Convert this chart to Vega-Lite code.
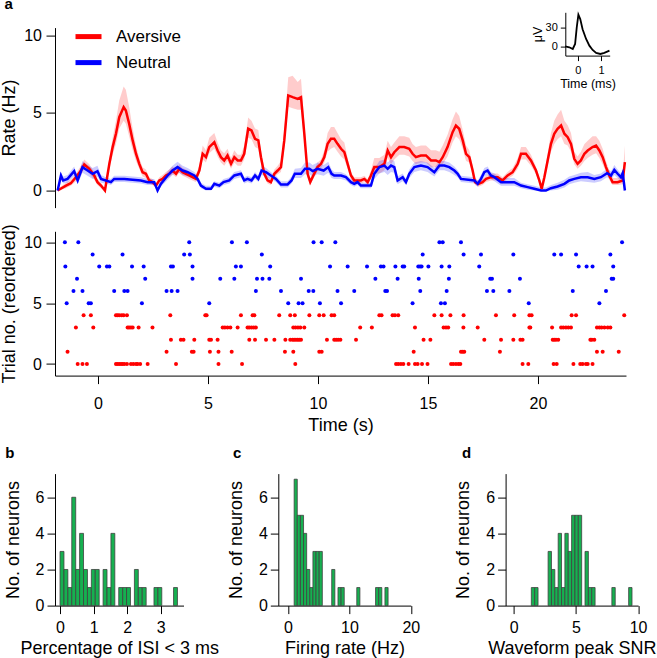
{
"$schema": "https://vega.github.io/schema/vega-lite/v6.json",
"padding": {"left": 0, "top": -3.4, "right": 0, "bottom": 0},
"config": {
  "font": "Liberation Sans",
  "view": {"stroke": null},
  "axis": {"grid": false, "domainColor": "black", "tickColor": "black", "labelColor": "black", "titleColor": "black", "labelFontSize": 16, "titleFontSize": 18, "titleFontWeight": "normal", "tickSize": 8, "domainWidth": 1, "tickWidth": 1, "labelFlush": false, "labelBound": false, "labelOverlap": false},
  "title": {"fontSize": 15, "fontWeight": "bold", "anchor": "start", "frame": "group", "baseline": "alphabetic", "offset": 0, "color": "black"}
},
"resolve": {"scale": {"color": "independent"}, "legend": {"color": "independent"}},
"datasets": {
"rate": [
{"s":"Aversive","t":-1.83,"r":0,"lo":0,"hi":0.1},
{"s":"Aversive","t":-1.45,"r":0.32,"lo":0.15,"hi":0.5},
{"s":"Aversive","t":-1.23,"r":0.47,"lo":0.3,"hi":0.7},
{"s":"Aversive","t":-1.0,"r":0.86,"lo":0.6,"hi":1.1},
{"s":"Aversive","t":-0.77,"r":1.29,"lo":1.0,"hi":1.6},
{"s":"Aversive","t":-0.62,"r":1.68,"lo":1.4,"hi":2.0},
{"s":"Aversive","t":-0.39,"r":1.4,"lo":1.1,"hi":1.7},
{"s":"Aversive","t":-0.17,"r":0.97,"lo":0.7,"hi":1.2},
{"s":"Aversive","t":-0.02,"r":0.54,"lo":0.35,"hi":0.75},
{"s":"Aversive","t":0.14,"r":0.32,"lo":0.15,"hi":0.5},
{"s":"Aversive","t":0.32,"r":0,"lo":0,"hi":0.15},
{"s":"Aversive","t":0.52,"r":1.72,"lo":1.4,"hi":2.1},
{"s":"Aversive","t":0.67,"r":2.8,"lo":2.3,"hi":3.4},
{"s":"Aversive","t":0.82,"r":3.66,"lo":3.0,"hi":4.5},
{"s":"Aversive","t":0.97,"r":4.73,"lo":4.0,"hi":5.8},
{"s":"Aversive","t":1.17,"r":5.38,"lo":4.5,"hi":6.7},
{"s":"Aversive","t":1.27,"r":5.16,"lo":4.3,"hi":6.5},
{"s":"Aversive","t":1.42,"r":4.3,"lo":3.5,"hi":5.4},
{"s":"Aversive","t":1.58,"r":3.23,"lo":2.6,"hi":4.0},
{"s":"Aversive","t":1.73,"r":2.37,"lo":1.9,"hi":2.9},
{"s":"Aversive","t":1.88,"r":1.72,"lo":1.4,"hi":2.1},
{"s":"Aversive","t":2.03,"r":1.18,"lo":0.9,"hi":1.5},
{"s":"Aversive","t":2.18,"r":1.08,"lo":0.8,"hi":1.35},
{"s":"Aversive","t":2.33,"r":0.65,"lo":0.45,"hi":0.85},
{"s":"Aversive","t":2.48,"r":0.54,"lo":0.35,"hi":0.75},
{"s":"Aversive","t":2.64,"r":0.32,"lo":0.15,"hi":0.5},
{"s":"Aversive","t":2.79,"r":0.65,"lo":0.45,"hi":0.85},
{"s":"Aversive","t":2.94,"r":0.75,"lo":0.55,"hi":1.0},
{"s":"Aversive","t":3.09,"r":0.97,"lo":0.75,"hi":1.2},
{"s":"Aversive","t":3.24,"r":1.08,"lo":0.85,"hi":1.35},
{"s":"Aversive","t":3.39,"r":1.29,"lo":1.05,"hi":1.55},
{"s":"Aversive","t":3.55,"r":1.08,"lo":0.85,"hi":1.35},
{"s":"Aversive","t":3.7,"r":1.4,"lo":1.15,"hi":1.7},
{"s":"Aversive","t":3.85,"r":1.18,"lo":0.95,"hi":1.45},
{"s":"Aversive","t":4.0,"r":1.08,"lo":0.85,"hi":1.35},
{"s":"Aversive","t":4.15,"r":0.97,"lo":0.75,"hi":1.2},
{"s":"Aversive","t":4.3,"r":0.86,"lo":0.65,"hi":1.1},
{"s":"Aversive","t":4.45,"r":0.75,"lo":0.55,"hi":1.0},
{"s":"Aversive","t":4.61,"r":1.29,"lo":1.0,"hi":1.6},
{"s":"Aversive","t":4.76,"r":2.37,"lo":2.0,"hi":2.9},
{"s":"Aversive","t":4.91,"r":2.15,"lo":1.8,"hi":2.6},
{"s":"Aversive","t":5.06,"r":2.8,"lo":2.4,"hi":3.4},
{"s":"Aversive","t":5.29,"r":3.12,"lo":2.7,"hi":3.7},
{"s":"Aversive","t":5.44,"r":2.58,"lo":2.2,"hi":3.1},
{"s":"Aversive","t":5.59,"r":2.15,"lo":1.8,"hi":2.6},
{"s":"Aversive","t":5.74,"r":1.94,"lo":1.6,"hi":2.4},
{"s":"Aversive","t":5.89,"r":2.26,"lo":1.9,"hi":2.7},
{"s":"Aversive","t":6.05,"r":1.72,"lo":1.4,"hi":2.1},
{"s":"Aversive","t":6.2,"r":2.15,"lo":1.8,"hi":2.6},
{"s":"Aversive","t":6.35,"r":1.94,"lo":1.6,"hi":2.3},
{"s":"Aversive","t":6.5,"r":1.94,"lo":1.6,"hi":2.3},
{"s":"Aversive","t":6.65,"r":2.37,"lo":2.0,"hi":2.9},
{"s":"Aversive","t":6.83,"r":3.98,"lo":3.4,"hi":4.7},
{"s":"Aversive","t":6.98,"r":3.87,"lo":3.3,"hi":4.5},
{"s":"Aversive","t":7.14,"r":3.33,"lo":2.8,"hi":4.0},
{"s":"Aversive","t":7.29,"r":3.23,"lo":2.7,"hi":3.9},
{"s":"Aversive","t":7.41,"r":2.15,"lo":1.8,"hi":2.6},
{"s":"Aversive","t":7.56,"r":1.08,"lo":0.85,"hi":1.4},
{"s":"Aversive","t":7.71,"r":0.65,"lo":0.45,"hi":0.9},
{"s":"Aversive","t":7.86,"r":0.54,"lo":0.35,"hi":0.75},
{"s":"Aversive","t":8.02,"r":1.08,"lo":0.85,"hi":1.35},
{"s":"Aversive","t":8.17,"r":1.29,"lo":1.05,"hi":1.6},
{"s":"Aversive","t":8.32,"r":1.51,"lo":1.2,"hi":1.9},
{"s":"Aversive","t":8.47,"r":3.23,"lo":2.7,"hi":3.9},
{"s":"Aversive","t":8.65,"r":6.13,"lo":5.4,"hi":7.3},
{"s":"Aversive","t":8.85,"r":6.02,"lo":5.3,"hi":7.4},
{"s":"Aversive","t":9.08,"r":5.91,"lo":5.2,"hi":7.0},
{"s":"Aversive","t":9.23,"r":6.02,"lo":5.2,"hi":7.2},
{"s":"Aversive","t":9.38,"r":3.66,"lo":3.1,"hi":4.4},
{"s":"Aversive","t":9.53,"r":1.08,"lo":0.85,"hi":1.4},
{"s":"Aversive","t":9.65,"r":0.54,"lo":0.35,"hi":0.8},
{"s":"Aversive","t":9.83,"r":1.08,"lo":0.85,"hi":1.35},
{"s":"Aversive","t":9.98,"r":1.51,"lo":1.25,"hi":1.8},
{"s":"Aversive","t":10.14,"r":1.72,"lo":1.45,"hi":2.0},
{"s":"Aversive","t":10.29,"r":2.15,"lo":1.8,"hi":2.6},
{"s":"Aversive","t":10.44,"r":3.01,"lo":2.5,"hi":3.7},
{"s":"Aversive","t":10.59,"r":3.33,"lo":2.7,"hi":4.1},
{"s":"Aversive","t":10.74,"r":3.33,"lo":2.8,"hi":4.1},
{"s":"Aversive","t":10.89,"r":3.01,"lo":2.5,"hi":3.7},
{"s":"Aversive","t":11.05,"r":2.69,"lo":2.2,"hi":3.3},
{"s":"Aversive","t":11.2,"r":2.47,"lo":2.0,"hi":3.1},
{"s":"Aversive","t":11.35,"r":1.72,"lo":1.4,"hi":2.1},
{"s":"Aversive","t":11.5,"r":0.97,"lo":0.75,"hi":1.2},
{"s":"Aversive","t":11.65,"r":0.65,"lo":0.45,"hi":0.85},
{"s":"Aversive","t":11.95,"r":0.65,"lo":0.45,"hi":0.85},
{"s":"Aversive","t":12.11,"r":0.75,"lo":0.55,"hi":0.95},
{"s":"Aversive","t":12.26,"r":0.54,"lo":0.35,"hi":0.75},
{"s":"Aversive","t":12.41,"r":0.97,"lo":0.7,"hi":1.3},
{"s":"Aversive","t":12.56,"r":1.51,"lo":1.1,"hi":2.1},
{"s":"Aversive","t":12.79,"r":1.51,"lo":1.1,"hi":2.1},
{"s":"Aversive","t":13.02,"r":1.72,"lo":1.3,"hi":2.3},
{"s":"Aversive","t":13.17,"r":2.58,"lo":2.1,"hi":3.2},
{"s":"Aversive","t":13.32,"r":2.15,"lo":1.7,"hi":2.8},
{"s":"Aversive","t":13.47,"r":2.47,"lo":2.0,"hi":3.1},
{"s":"Aversive","t":13.7,"r":2.8,"lo":2.3,"hi":3.5},
{"s":"Aversive","t":13.92,"r":2.8,"lo":2.3,"hi":3.5},
{"s":"Aversive","t":14.15,"r":2.69,"lo":2.2,"hi":3.4},
{"s":"Aversive","t":14.3,"r":2.37,"lo":1.9,"hi":3.0},
{"s":"Aversive","t":14.45,"r":2.15,"lo":1.7,"hi":2.8},
{"s":"Aversive","t":14.68,"r":2.26,"lo":1.8,"hi":2.9},
{"s":"Aversive","t":14.91,"r":2.26,"lo":1.8,"hi":2.9},
{"s":"Aversive","t":15.14,"r":1.94,"lo":1.5,"hi":2.6},
{"s":"Aversive","t":15.36,"r":1.94,"lo":1.5,"hi":2.6},
{"s":"Aversive","t":15.52,"r":1.83,"lo":1.4,"hi":2.5},
{"s":"Aversive","t":15.67,"r":2.15,"lo":1.7,"hi":2.9},
{"s":"Aversive","t":15.89,"r":2.8,"lo":2.2,"hi":3.6},
{"s":"Aversive","t":16.12,"r":3.76,"lo":3.1,"hi":4.6},
{"s":"Aversive","t":16.27,"r":4.19,"lo":3.5,"hi":5.1},
{"s":"Aversive","t":16.42,"r":3.98,"lo":3.3,"hi":4.8},
{"s":"Aversive","t":16.58,"r":3.23,"lo":2.7,"hi":3.9},
{"s":"Aversive","t":16.73,"r":2.37,"lo":1.9,"hi":2.9},
{"s":"Aversive","t":16.88,"r":2.15,"lo":1.8,"hi":2.6},
{"s":"Aversive","t":17.03,"r":1.29,"lo":1.0,"hi":1.6},
{"s":"Aversive","t":17.14,"r":0.54,"lo":0.35,"hi":0.75},
{"s":"Aversive","t":17.29,"r":0.43,"lo":0.25,"hi":0.65},
{"s":"Aversive","t":17.48,"r":0.54,"lo":0.35,"hi":0.75},
{"s":"Aversive","t":17.64,"r":0.75,"lo":0.55,"hi":0.95},
{"s":"Aversive","t":17.86,"r":0.86,"lo":0.65,"hi":1.1},
{"s":"Aversive","t":18.17,"r":0.86,"lo":0.65,"hi":1.1},
{"s":"Aversive","t":18.39,"r":0.65,"lo":0.45,"hi":0.85},
{"s":"Aversive","t":18.62,"r":0.97,"lo":0.75,"hi":1.2},
{"s":"Aversive","t":18.85,"r":1.18,"lo":0.95,"hi":1.45},
{"s":"Aversive","t":19.08,"r":1.72,"lo":1.4,"hi":2.1},
{"s":"Aversive","t":19.23,"r":2.37,"lo":2.0,"hi":2.8},
{"s":"Aversive","t":19.45,"r":2.37,"lo":2.0,"hi":2.8},
{"s":"Aversive","t":19.68,"r":1.94,"lo":1.6,"hi":2.3},
{"s":"Aversive","t":19.91,"r":1.29,"lo":1.05,"hi":1.55},
{"s":"Aversive","t":20.06,"r":0.65,"lo":0.5,"hi":0.8},
{"s":"Aversive","t":20.17,"r":0.11,"lo":0,"hi":0.25},
{"s":"Aversive","t":20.29,"r":0.86,"lo":0.65,"hi":1.1},
{"s":"Aversive","t":20.44,"r":1.94,"lo":1.6,"hi":2.4},
{"s":"Aversive","t":20.59,"r":3.01,"lo":2.5,"hi":3.7},
{"s":"Aversive","t":20.74,"r":3.66,"lo":3.0,"hi":4.5},
{"s":"Aversive","t":20.89,"r":3.98,"lo":3.3,"hi":4.9},
{"s":"Aversive","t":21.05,"r":4.19,"lo":3.5,"hi":5.2},
{"s":"Aversive","t":21.2,"r":3.66,"lo":3.0,"hi":4.5},
{"s":"Aversive","t":21.35,"r":3.44,"lo":2.9,"hi":4.2},
{"s":"Aversive","t":21.5,"r":3.01,"lo":2.5,"hi":3.7},
{"s":"Aversive","t":21.65,"r":2.04,"lo":1.7,"hi":2.5},
{"s":"Aversive","t":21.8,"r":1.72,"lo":1.4,"hi":2.2},
{"s":"Aversive","t":21.95,"r":1.94,"lo":1.6,"hi":2.5},
{"s":"Aversive","t":22.11,"r":2.37,"lo":1.9,"hi":3.0},
{"s":"Aversive","t":22.26,"r":2.58,"lo":2.1,"hi":3.2},
{"s":"Aversive","t":22.48,"r":2.8,"lo":2.3,"hi":3.5},
{"s":"Aversive","t":22.64,"r":2.9,"lo":2.4,"hi":3.5},
{"s":"Aversive","t":22.79,"r":2.58,"lo":2.1,"hi":3.2},
{"s":"Aversive","t":22.94,"r":2.15,"lo":1.7,"hi":2.7},
{"s":"Aversive","t":23.09,"r":1.51,"lo":1.2,"hi":1.9},
{"s":"Aversive","t":23.24,"r":0.97,"lo":0.7,"hi":1.3},
{"s":"Aversive","t":23.39,"r":0.54,"lo":0.35,"hi":0.8},
{"s":"Aversive","t":23.62,"r":0.54,"lo":0.35,"hi":0.8},
{"s":"Aversive","t":23.85,"r":0.65,"lo":0.4,"hi":1.0},
{"s":"Aversive","t":23.95,"r":1.83,"lo":1.2,"hi":2.9},
{"s":"Neutral","t":-1.83,"r":0,"lo":0,"hi":0.1},
{"s":"Neutral","t":-1.68,"r":0.97,"lo":0.7,"hi":1.2},
{"s":"Neutral","t":-1.58,"r":0.65,"lo":0.45,"hi":0.9},
{"s":"Neutral","t":-1.38,"r":0.75,"lo":0.5,"hi":1.0},
{"s":"Neutral","t":-1.08,"r":1.25,"lo":0.95,"hi":1.55},
{"s":"Neutral","t":-0.92,"r":0.65,"lo":0.4,"hi":0.9},
{"s":"Neutral","t":-0.7,"r":1.51,"lo":1.15,"hi":1.9},
{"s":"Neutral","t":-0.47,"r":1.29,"lo":0.95,"hi":1.65},
{"s":"Neutral","t":-0.24,"r":1.08,"lo":0.75,"hi":1.45},
{"s":"Neutral","t":-0.02,"r":1.25,"lo":0.9,"hi":1.6},
{"s":"Neutral","t":0.14,"r":0.75,"lo":0.5,"hi":1.0},
{"s":"Neutral","t":0.36,"r":0.65,"lo":0.45,"hi":0.85},
{"s":"Neutral","t":0.59,"r":0.54,"lo":0.35,"hi":0.75},
{"s":"Neutral","t":0.74,"r":0.75,"lo":0.55,"hi":0.95},
{"s":"Neutral","t":1.2,"r":0.75,"lo":0.55,"hi":0.95},
{"s":"Neutral","t":1.95,"r":0.65,"lo":0.45,"hi":0.85},
{"s":"Neutral","t":2.26,"r":0.54,"lo":0.35,"hi":0.75},
{"s":"Neutral","t":2.56,"r":0.54,"lo":0.35,"hi":0.75},
{"s":"Neutral","t":2.71,"r":0,"lo":0,"hi":0.15},
{"s":"Neutral","t":2.86,"r":0.43,"lo":0.25,"hi":0.65},
{"s":"Neutral","t":3.17,"r":0.97,"lo":0.7,"hi":1.25},
{"s":"Neutral","t":3.39,"r":1.29,"lo":1.0,"hi":1.6},
{"s":"Neutral","t":3.62,"r":1.51,"lo":1.2,"hi":1.85},
{"s":"Neutral","t":3.85,"r":1.29,"lo":1.0,"hi":1.6},
{"s":"Neutral","t":4.08,"r":1.18,"lo":0.9,"hi":1.45},
{"s":"Neutral","t":4.38,"r":0.97,"lo":0.75,"hi":1.2},
{"s":"Neutral","t":4.53,"r":0.75,"lo":0.55,"hi":0.95},
{"s":"Neutral","t":4.68,"r":0.32,"lo":0.15,"hi":0.5},
{"s":"Neutral","t":4.91,"r":0.11,"lo":0,"hi":0.3},
{"s":"Neutral","t":5.14,"r":0.11,"lo":0,"hi":0.3},
{"s":"Neutral","t":5.29,"r":0.43,"lo":0.25,"hi":0.6},
{"s":"Neutral","t":5.52,"r":0.32,"lo":0.15,"hi":0.5},
{"s":"Neutral","t":5.71,"r":0.54,"lo":0.35,"hi":0.75},
{"s":"Neutral","t":5.97,"r":0.65,"lo":0.45,"hi":0.85},
{"s":"Neutral","t":6.2,"r":0.97,"lo":0.75,"hi":1.2},
{"s":"Neutral","t":6.5,"r":1.08,"lo":0.85,"hi":1.3},
{"s":"Neutral","t":6.65,"r":0.65,"lo":0.45,"hi":0.85},
{"s":"Neutral","t":6.8,"r":0.75,"lo":0.55,"hi":0.95},
{"s":"Neutral","t":6.98,"r":0.65,"lo":0.45,"hi":0.85},
{"s":"Neutral","t":7.14,"r":0.97,"lo":0.75,"hi":1.2},
{"s":"Neutral","t":7.29,"r":0.75,"lo":0.55,"hi":0.95},
{"s":"Neutral","t":7.44,"r":1.29,"lo":1.0,"hi":1.6},
{"s":"Neutral","t":7.64,"r":1.18,"lo":0.9,"hi":1.45},
{"s":"Neutral","t":7.86,"r":0.97,"lo":0.75,"hi":1.2},
{"s":"Neutral","t":8.09,"r":0.75,"lo":0.55,"hi":0.95},
{"s":"Neutral","t":8.32,"r":0.39,"lo":0.2,"hi":0.6},
{"s":"Neutral","t":8.62,"r":0.39,"lo":0.2,"hi":0.6},
{"s":"Neutral","t":8.8,"r":0.65,"lo":0.45,"hi":0.9},
{"s":"Neutral","t":8.95,"r":1.08,"lo":0.8,"hi":1.4},
{"s":"Neutral","t":9.23,"r":1.08,"lo":0.8,"hi":1.45},
{"s":"Neutral","t":9.41,"r":1.4,"lo":1.05,"hi":1.8},
{"s":"Neutral","t":9.61,"r":1.4,"lo":1.05,"hi":1.8},
{"s":"Neutral","t":9.76,"r":1.25,"lo":0.9,"hi":1.65},
{"s":"Neutral","t":9.98,"r":1.4,"lo":1.05,"hi":1.8},
{"s":"Neutral","t":10.26,"r":1.29,"lo":0.95,"hi":1.65},
{"s":"Neutral","t":10.47,"r":1.51,"lo":1.15,"hi":1.85},
{"s":"Neutral","t":10.62,"r":1.08,"lo":0.8,"hi":1.35},
{"s":"Neutral","t":10.74,"r":0.97,"lo":0.75,"hi":1.2},
{"s":"Neutral","t":11.05,"r":0.97,"lo":0.75,"hi":1.2},
{"s":"Neutral","t":11.27,"r":0.86,"lo":0.65,"hi":1.05},
{"s":"Neutral","t":11.5,"r":0.54,"lo":0.35,"hi":0.75},
{"s":"Neutral","t":11.65,"r":0.43,"lo":0.25,"hi":0.65},
{"s":"Neutral","t":11.8,"r":0.54,"lo":0.35,"hi":0.75},
{"s":"Neutral","t":11.95,"r":0.32,"lo":0.15,"hi":0.5},
{"s":"Neutral","t":12.41,"r":0.32,"lo":0.15,"hi":0.5},
{"s":"Neutral","t":12.56,"r":1.08,"lo":0.75,"hi":1.4},
{"s":"Neutral","t":12.79,"r":1.51,"lo":1.1,"hi":1.9},
{"s":"Neutral","t":13.02,"r":1.61,"lo":1.2,"hi":2.0},
{"s":"Neutral","t":13.17,"r":1.4,"lo":1.0,"hi":1.8},
{"s":"Neutral","t":13.32,"r":1.61,"lo":1.2,"hi":2.0},
{"s":"Neutral","t":13.47,"r":1.51,"lo":1.15,"hi":1.9},
{"s":"Neutral","t":13.62,"r":0.65,"lo":0.4,"hi":0.9},
{"s":"Neutral","t":13.85,"r":0.86,"lo":0.6,"hi":1.1},
{"s":"Neutral","t":14.0,"r":0.54,"lo":0.35,"hi":0.75},
{"s":"Neutral","t":14.15,"r":1.08,"lo":0.8,"hi":1.35},
{"s":"Neutral","t":14.38,"r":1.51,"lo":1.2,"hi":1.8},
{"s":"Neutral","t":14.68,"r":1.61,"lo":1.3,"hi":1.9},
{"s":"Neutral","t":14.98,"r":1.51,"lo":1.2,"hi":1.8},
{"s":"Neutral","t":15.29,"r":1.18,"lo":0.9,"hi":1.45},
{"s":"Neutral","t":15.52,"r":1.61,"lo":1.3,"hi":1.9},
{"s":"Neutral","t":15.74,"r":1.61,"lo":1.3,"hi":1.9},
{"s":"Neutral","t":15.97,"r":1.51,"lo":1.2,"hi":1.8},
{"s":"Neutral","t":16.2,"r":1.29,"lo":1.0,"hi":1.55},
{"s":"Neutral","t":16.35,"r":1.08,"lo":0.85,"hi":1.3},
{"s":"Neutral","t":16.5,"r":0.75,"lo":0.55,"hi":0.95},
{"s":"Neutral","t":17.11,"r":0.65,"lo":0.45,"hi":0.85},
{"s":"Neutral","t":17.26,"r":0.43,"lo":0.25,"hi":0.65},
{"s":"Neutral","t":17.41,"r":0.75,"lo":0.5,"hi":1.0},
{"s":"Neutral","t":17.56,"r":1.18,"lo":0.9,"hi":1.45},
{"s":"Neutral","t":17.71,"r":1.29,"lo":1.0,"hi":1.55},
{"s":"Neutral","t":17.86,"r":0.97,"lo":0.75,"hi":1.2},
{"s":"Neutral","t":18.02,"r":0.86,"lo":0.6,"hi":1.1},
{"s":"Neutral","t":18.32,"r":0.54,"lo":0.3,"hi":0.8},
{"s":"Neutral","t":18.92,"r":0.54,"lo":0.3,"hi":0.8},
{"s":"Neutral","t":19.23,"r":0.32,"lo":0.15,"hi":0.5},
{"s":"Neutral","t":19.53,"r":0.22,"lo":0.05,"hi":0.4},
{"s":"Neutral","t":19.83,"r":0.11,"lo":0,"hi":0.3},
{"s":"Neutral","t":20.14,"r":0,"lo":0,"hi":0.2},
{"s":"Neutral","t":20.36,"r":0,"lo":0,"hi":0.2},
{"s":"Neutral","t":20.59,"r":0.15,"lo":0,"hi":0.35},
{"s":"Neutral","t":20.89,"r":0.26,"lo":0.05,"hi":0.5},
{"s":"Neutral","t":21.2,"r":0.43,"lo":0.2,"hi":0.7},
{"s":"Neutral","t":21.42,"r":0.65,"lo":0.4,"hi":0.9},
{"s":"Neutral","t":21.65,"r":0.75,"lo":0.5,"hi":1.0},
{"s":"Neutral","t":21.95,"r":0.86,"lo":0.6,"hi":1.15},
{"s":"Neutral","t":22.26,"r":0.86,"lo":0.55,"hi":1.2},
{"s":"Neutral","t":22.56,"r":0.75,"lo":0.5,"hi":1.0},
{"s":"Neutral","t":22.86,"r":0.86,"lo":0.6,"hi":1.1},
{"s":"Neutral","t":23.14,"r":1.12,"lo":0.85,"hi":1.4},
{"s":"Neutral","t":23.32,"r":0.97,"lo":0.7,"hi":1.25},
{"s":"Neutral","t":23.47,"r":1.33,"lo":1.0,"hi":1.65},
{"s":"Neutral","t":23.62,"r":1.08,"lo":0.8,"hi":1.35},
{"s":"Neutral","t":23.77,"r":0.86,"lo":0.6,"hi":1.1},
{"s":"Neutral","t":23.85,"r":1.12,"lo":0.8,"hi":1.4},
{"s":"Neutral","t":23.95,"r":0,"lo":0,"hi":0.3}
],
"raster": [
{"k":10,"t":-1.5},{"k":10,"t":-0.89},{"k":10,"t":4.15},{"k":10,"t":6.09},{"k":10,"t":6.77},{"k":10,"t":9.8},{"k":10,"t":10.17},{"k":10,"t":10.79},{"k":10,"t":15.52},{"k":10,"t":15.67},{"k":10,"t":16.5},{"k":10,"t":23.82},
{"k":9,"t":-0.24},{"k":9,"t":1.12},{"k":9,"t":3.92},{"k":9,"t":4.18},{"k":9,"t":7.45},{"k":9,"t":14.76},{"k":9,"t":16.62},{"k":9,"t":17.41},{"k":9,"t":18.88},{"k":9,"t":20.74},{"k":9,"t":21.05},{"k":9,"t":21.73},{"k":9,"t":23.29},
{"k":8,"t":-1.48},{"k":8,"t":0.06},{"k":8,"t":0.41},{"k":8,"t":0.52},{"k":8,"t":1.55},{"k":8,"t":2.08},{"k":8,"t":3.32},{"k":8,"t":3.41},{"k":8,"t":4.3},{"k":8,"t":6.27},{"k":8,"t":6.5},{"k":8,"t":7.83},{"k":8,"t":10.55},{"k":8,"t":11.35},{"k":8,"t":12.23},{"k":8,"t":12.86},{"k":8,"t":12.98},{"k":8,"t":13.52},{"k":8,"t":13.85},{"k":8,"t":13.92},{"k":8,"t":14.56},{"k":8,"t":14.64},{"k":8,"t":14.71},{"k":8,"t":15.02},{"k":8,"t":15.62},{"k":8,"t":15.97},{"k":8,"t":17.33},{"k":8,"t":21.85},{"k":8,"t":22.21},{"k":8,"t":22.48},{"k":8,"t":23.42},
{"k":7,"t":-0.95},{"k":7,"t":2.15},{"k":7,"t":4.3},{"k":7,"t":5.56},{"k":7,"t":6.2},{"k":7,"t":7.23},{"k":7,"t":7.48},{"k":7,"t":7.79},{"k":7,"t":9.23},{"k":7,"t":12.61},{"k":7,"t":13.62},{"k":7,"t":14.58},{"k":7,"t":15.95},{"k":7,"t":17.83},{"k":7,"t":17.91},{"k":7,"t":19.18},{"k":7,"t":23.35},{"k":7,"t":23.42},
{"k":6,"t":-1.11},{"k":6,"t":-0.7},{"k":6,"t":0.74},{"k":6,"t":1.2},{"k":6,"t":1.35},{"k":6,"t":3.12},{"k":6,"t":3.35},{"k":6,"t":3.62},{"k":6,"t":7.18},{"k":6,"t":8.32},{"k":6,"t":9.58},{"k":6,"t":9.79},{"k":6,"t":10.89},{"k":6,"t":11.65},{"k":6,"t":13.06},{"k":6,"t":13.14},{"k":6,"t":14.65},{"k":6,"t":15.85},{"k":6,"t":17.68},{"k":6,"t":17.97},{"k":6,"t":18.7},{"k":6,"t":21.58},{"k":6,"t":23.09},
{"k":5,"t":-1.42},{"k":5,"t":-0.42},{"k":5,"t":-0.32},{"k":5,"t":2.0},{"k":5,"t":5.06},{"k":5,"t":8.65},{"k":5,"t":9.12},{"k":5,"t":9.3},{"k":5,"t":10.09},{"k":5,"t":11.05},{"k":5,"t":14.3},{"k":5,"t":15.59},{"k":5,"t":15.77},{"k":5,"t":19.58},{"k":5,"t":22.79},
{"k":4,"t":-0.65},{"k":4,"t":-0.32},{"k":4,"t":0.82},{"k":4,"t":0.89},{"k":4,"t":0.97},{"k":4,"t":1.08},{"k":4,"t":1.17},{"k":4,"t":1.32},{"k":4,"t":3.29},{"k":4,"t":4.88},{"k":4,"t":4.94},{"k":4,"t":6.5},{"k":4,"t":7.03},{"k":4,"t":7.11},{"k":4,"t":8.24},{"k":4,"t":8.74},{"k":4,"t":8.95},{"k":4,"t":9.61},{"k":4,"t":10.06},{"k":4,"t":10.26},{"k":4,"t":10.62},{"k":4,"t":10.74},{"k":4,"t":12.79},{"k":4,"t":12.89},{"k":4,"t":13.39},{"k":4,"t":13.5},{"k":4,"t":13.65},{"k":4,"t":15.29},{"k":4,"t":15.62},{"k":4,"t":16.02},{"k":4,"t":16.62},{"k":4,"t":18.09},{"k":4,"t":18.92},{"k":4,"t":19.61},{"k":4,"t":19.71},{"k":4,"t":21.53},{"k":4,"t":21.73},{"k":4,"t":23.92},
{"k":3,"t":-1.0},{"k":3,"t":-0.21},{"k":3,"t":1.35},{"k":3,"t":1.42},{"k":3,"t":1.5},{"k":3,"t":1.58},{"k":3,"t":1.85},{"k":3,"t":2.48},{"k":3,"t":5.67},{"k":3,"t":5.77},{"k":3,"t":5.89},{"k":3,"t":6.02},{"k":3,"t":6.35},{"k":3,"t":6.8},{"k":3,"t":6.88},{"k":3,"t":6.98},{"k":3,"t":7.08},{"k":3,"t":7.18},{"k":3,"t":8.88},{"k":3,"t":8.98},{"k":3,"t":9.09},{"k":3,"t":9.2},{"k":3,"t":9.38},{"k":3,"t":11.92},{"k":3,"t":12.45},{"k":3,"t":14.41},{"k":3,"t":15.71},{"k":3,"t":15.82},{"k":3,"t":15.92},{"k":3,"t":16.61},{"k":3,"t":17.26},{"k":3,"t":19.61},{"k":3,"t":19.65},{"k":3,"t":20.64},{"k":3,"t":21.05},{"k":3,"t":21.15},{"k":3,"t":21.27},{"k":3,"t":21.38},{"k":3,"t":21.5},{"k":3,"t":22.68},{"k":3,"t":22.79},{"k":3,"t":22.89},{"k":3,"t":23.02},{"k":3,"t":23.17},{"k":3,"t":23.29},
{"k":2,"t":3.32},{"k":2,"t":3.77},{"k":2,"t":3.89},{"k":2,"t":4.38},{"k":2,"t":5.06},{"k":2,"t":5.14},{"k":2,"t":5.44},{"k":2,"t":6.88},{"k":2,"t":7.14},{"k":2,"t":7.64},{"k":2,"t":8.02},{"k":2,"t":8.52},{"k":2,"t":8.74},{"k":2,"t":8.85},{"k":2,"t":8.92},{"k":2,"t":9.0},{"k":2,"t":9.08},{"k":2,"t":9.15},{"k":2,"t":9.23},{"k":2,"t":10.41},{"k":2,"t":10.74},{"k":2,"t":10.83},{"k":2,"t":10.92},{"k":2,"t":11.02},{"k":2,"t":11.73},{"k":2,"t":14.8},{"k":2,"t":15.11},{"k":2,"t":17.56},{"k":2,"t":18.32},{"k":2,"t":18.88},{"k":2,"t":19.2},{"k":2,"t":19.3},{"k":2,"t":20.67},{"k":2,"t":20.74},{"k":2,"t":20.82},{"k":2,"t":20.92},{"k":2,"t":22.38},{"k":2,"t":22.45},{"k":2,"t":22.56},
{"k":1,"t":-1.38},{"k":1,"t":3.12},{"k":1,"t":4.27},{"k":1,"t":4.35},{"k":1,"t":5.09},{"k":1,"t":5.48},{"k":1,"t":6.08},{"k":1,"t":8.5},{"k":1,"t":8.88},{"k":1,"t":10.06},{"k":1,"t":10.17},{"k":1,"t":14.35},{"k":1,"t":16.5},{"k":1,"t":16.58},{"k":1,"t":16.65},{"k":1,"t":18.27},{"k":1,"t":22.68},{"k":1,"t":22.94},{"k":1,"t":23.67},
{"k":0,"t":-0.92},{"k":0,"t":-0.7},{"k":0,"t":-0.5},{"k":0,"t":0.82},{"k":0,"t":0.89},{"k":0,"t":0.97},{"k":0,"t":1.05},{"k":0,"t":1.12},{"k":0,"t":1.2},{"k":0,"t":1.32},{"k":0,"t":1.5},{"k":0,"t":1.61},{"k":0,"t":1.73},{"k":0,"t":1.8},{"k":0,"t":1.92},{"k":0,"t":2.26},{"k":0,"t":3.55},{"k":0,"t":5.48},{"k":0,"t":6.55},{"k":0,"t":8.97},{"k":0,"t":13.55},{"k":0,"t":13.65},{"k":0,"t":13.77},{"k":0,"t":13.88},{"k":0,"t":14.12},{"k":0,"t":14.41},{"k":0,"t":14.53},{"k":0,"t":14.73},{"k":0,"t":14.98},{"k":0,"t":16.05},{"k":0,"t":16.15},{"k":0,"t":16.27},{"k":0,"t":16.38},{"k":0,"t":16.47},{"k":0,"t":19.3},{"k":0,"t":19.56},{"k":0,"t":20.71},{"k":0,"t":20.85},{"k":0,"t":21.61},{"k":0,"t":21.92},{"k":0,"t":22.03},{"k":0,"t":22.18},{"k":0,"t":22.26},{"k":0,"t":22.48}
],
"wave": [
{"ms":-0.53,"uv":0},{"ms":-0.36,"uv":-1.6},{"ms":-0.21,"uv":-4.2},{"ms":-0.11,"uv":3.7},{"ms":-0.04,"uv":30},{"ms":0.03,"uv":50},{"ms":0.11,"uv":43},{"ms":0.21,"uv":27},{"ms":0.36,"uv":11.6},{"ms":0.5,"uv":1},{"ms":0.64,"uv":-5.8},{"ms":0.79,"uv":-10.5},{"ms":0.97,"uv":-12.1},{"ms":1.14,"uv":-10.5},{"ms":1.36,"uv":-6.8}
],
"hb": [
{"x0":0,"x1":0.117,"n":3},{"x0":0.117,"x1":0.233,"n":2},{"x0":0.233,"x1":0.35,"n":1},{"x0":0.35,"x1":0.467,"n":6},{"x0":0.467,"x1":0.583,"n":2},{"x0":0.583,"x1":0.7,"n":4},{"x0":0.7,"x1":0.817,"n":2},{"x0":0.817,"x1":0.933,"n":1},{"x0":0.933,"x1":1.05,"n":2},{"x0":1.05,"x1":1.167,"n":2},{"x0":1.283,"x1":1.4,"n":2},{"x0":1.4,"x1":1.517,"n":1},{"x0":1.517,"x1":1.633,"n":4},{"x0":1.75,"x1":1.867,"n":1},{"x0":1.867,"x1":1.983,"n":1},{"x0":1.983,"x1":2.1,"n":1},{"x0":2.217,"x1":2.333,"n":2},{"x0":2.333,"x1":2.45,"n":1},{"x0":2.45,"x1":2.567,"n":1},{"x0":2.8,"x1":2.917,"n":1},{"x0":2.917,"x1":3.033,"n":1},{"x0":3.383,"x1":3.5,"n":1}
],
"hc": [
{"x0":1.0,"x1":1.51,"n":7},{"x0":1.51,"x1":2.02,"n":5},{"x0":2.02,"x1":2.53,"n":5},{"x0":2.53,"x1":3.04,"n":4},{"x0":3.04,"x1":3.55,"n":2},{"x0":3.55,"x1":4.06,"n":1},{"x0":4.06,"x1":4.57,"n":3},{"x0":4.57,"x1":5.08,"n":3},{"x0":5.08,"x1":5.59,"n":3},{"x0":7.12,"x1":7.63,"n":2},{"x0":8.14,"x1":8.65,"n":1},{"x0":8.65,"x1":9.16,"n":1},{"x0":11.2,"x1":11.71,"n":1},{"x0":14.26,"x1":14.77,"n":1},{"x0":14.77,"x1":15.28,"n":1},{"x0":15.79,"x1":16.3,"n":1}
],
"hd": [
{"x0":1.41,"x1":1.68,"n":1},{"x0":1.68,"x1":1.95,"n":1},{"x0":2.76,"x1":3.03,"n":3},{"x0":3.03,"x1":3.3,"n":2},{"x0":3.3,"x1":3.57,"n":1},{"x0":3.57,"x1":3.84,"n":4},{"x0":3.84,"x1":4.11,"n":1},{"x0":4.11,"x1":4.38,"n":4},{"x0":4.38,"x1":4.65,"n":3},{"x0":4.65,"x1":4.92,"n":5},{"x0":4.92,"x1":5.19,"n":5},{"x0":5.19,"x1":5.46,"n":5},{"x0":5.73,"x1":6.0,"n":3},{"x0":6.0,"x1":6.27,"n":1},{"x0":6.27,"x1":6.54,"n":1},{"x0":7.89,"x1":8.16,"n":1},{"x0":9.24,"x1":9.51,"n":1}
]
},
"vconcat": [
{
  "width": 571, "height": 348,
  "title": {"text": "a", "dx": -50.5, "dy": 4.6},
  "layer": [
    {
      "data": {"name": "rate"},
      "layer": [
        {"mark": {"type": "area", "opacity": 0.2},
         "encoding": {
           "x": {"field": "t", "type": "quantitative", "scale": {"domain": [-1.95, 24], "nice": false, "zero": false}, "axis": null},
           "y": {"field": "lo", "type": "quantitative", "scale": {"domain": [-1.1, 10.5], "range": [180, 0], "nice": false, "zero": false}, "axis": {"orient": "left", "values": [0, 5, 10], "title": "Rate (Hz)", "tickSize": 9, "labelPadding": 4.5, "titlePadding": 5}},
           "y2": {"field": "hi"},
           "fill": {"field": "s", "type": "nominal", "scale": {"domain": ["Aversive", "Neutral"], "range": ["#ff0000", "#0000ff"]}, "legend": null}
         }},
        {"mark": {"type": "line", "strokeWidth": 2.5},
         "encoding": {
           "x": {"field": "t", "type": "quantitative", "axis": null},
           "y": {"field": "r", "type": "quantitative"},
           "color": {"field": "s", "type": "nominal", "scale": {"domain": ["Aversive", "Neutral"], "range": ["#ff0000", "#0000ff"]}, "legend": {"orient": "none", "legendX": 18, "legendY": -6.5, "title": null, "symbolType": "stroke", "symbolSize": 676, "symbolStrokeWidth": 5, "labelFontSize": 17, "labelOffset": 12, "rowPadding": 0, "padding": 0, "labelColor": "black"}}
         }}
      ]
    },
    {
      "data": {"name": "raster"},
      "mark": {"type": "circle", "size": 16, "opacity": 1},
      "encoding": {
        "x": {"field": "t", "type": "quantitative", "scale": {"domain": [-1.95, 24], "nice": false, "zero": false}, "axis": {"orient": "bottom", "values": [0, 5, 10, 15, 20], "title": "Time (s)", "labelPadding": 11.5, "titlePadding": 5}},
        "y": {"field": "k", "type": "quantitative", "scale": {"domain": [-0.95, 10.9], "range": [348, 203.7], "nice": false, "zero": false}, "axis": {"orient": "left", "values": [0, 5, 10], "title": "Trial no. (reordered)", "tickSize": 9, "labelPadding": 4.5, "titlePadding": 5}},
        "color": {"condition": {"test": "datum.k < 5", "value": "#ff0000"}, "value": "#0000ff"}
      }
    },
    {
      "data": {"name": "wave"},
      "mark": {"type": "line", "color": "black", "strokeWidth": 1.8},
      "encoding": {
        "x": {"field": "ms", "type": "quantitative", "scale": {"domain": [-0.53, 1.37], "range": [510.3, 554.7], "nice": false, "zero": false}, "axis": {"orient": "bottom", "offset": -320, "values": [0, 1], "title": "Time (ms)", "tickSize": 5, "labelFontSize": 11, "titleFontSize": 12.5, "labelPadding": 4, "titlePadding": 1.5}},
        "y": {"field": "uv", "type": "quantitative", "scale": {"domain": [-14.7, 53.7], "range": [28, -15.3], "nice": false, "zero": false}, "axis": {"orient": "left", "offset": -510.3, "values": [0, 30], "title": "μV", "tickSize": 5, "labelFontSize": 11, "titleFontSize": 12.5, "labelPadding": 3, "titlePadding": 1}}
      }
    }
  ],
  "resolve": {"scale": {"x": "independent", "y": "independent"}}
},
{
  "hconcat": [
    {
      "width": 128.5, "height": 132,
      "title": {"text": "b", "dx": -49.8, "offset": 12.3},
      "data": {"name": "hb"},
      "mark": {"type": "rect", "fill": "#16b050", "stroke": "#404040", "strokeWidth": 0.8},
      "encoding": {
        "x": {"field": "x0", "type": "quantitative", "scale": {"domain": [-0.15, 3.68], "nice": false, "zero": false}, "axis": {"values": [0, 1, 2, 3], "title": "Percentage of ISI < 3 ms", "labelPadding": 5.8, "titlePadding": 4}},
        "x2": {"field": "x1"},
        "y": {"field": "n", "type": "quantitative", "scale": {"domain": [0, 7.31], "nice": false}, "axis": {"values": [0, 2, 4, 6], "title": "No. of neurons", "labelPadding": 3, "titlePadding": 13}},
        "y2": {"datum": 0}
      }
    },
    {
      "width": 132.5, "height": 132,
      "title": {"text": "c", "dx": -45.2, "offset": 12.3},
      "data": {"name": "hc"},
      "mark": {"type": "rect", "fill": "#16b050", "stroke": "#404040", "strokeWidth": 0.8},
      "encoding": {
        "x": {"field": "x0", "type": "quantitative", "scale": {"domain": [-1.58, 20], "nice": false, "zero": false}, "axis": {"values": [0, 10, 20], "title": "Firing rate (Hz)", "labelPadding": 5.8, "titlePadding": 4}},
        "x2": {"field": "x1"},
        "y": {"field": "n", "type": "quantitative", "scale": {"domain": [0, 7.31], "nice": false}, "axis": {"values": [0, 2, 4, 6], "title": "No. of neurons", "labelPadding": 3, "titlePadding": 13}},
        "y2": {"datum": 0}
      }
    },
    {
      "width": 132.5, "height": 132,
      "title": {"text": "d", "dx": -43.7, "offset": 12.3},
      "data": {"name": "hd"},
      "mark": {"type": "rect", "fill": "#16b050", "stroke": "#404040", "strokeWidth": 0.8},
      "encoding": {
        "x": {"field": "x0", "type": "quantitative", "scale": {"domain": [-0.66, 10], "nice": false, "zero": false}, "axis": {"values": [0, 5, 10], "title": "Waveform peak SNR", "labelPadding": 5.8, "titlePadding": 4}},
        "x2": {"field": "x1"},
        "y": {"field": "n", "type": "quantitative", "scale": {"domain": [0, 7.31], "nice": false}, "axis": {"values": [0, 2, 4, 6], "title": "No. of neurons", "labelPadding": 3, "titlePadding": 13}},
        "y2": {"datum": 0}
      }
    }
  ],
  "spacing": 94.3,
  "bounds": "flush"
}
],
"spacing": 98,
"bounds": "flush"
}
